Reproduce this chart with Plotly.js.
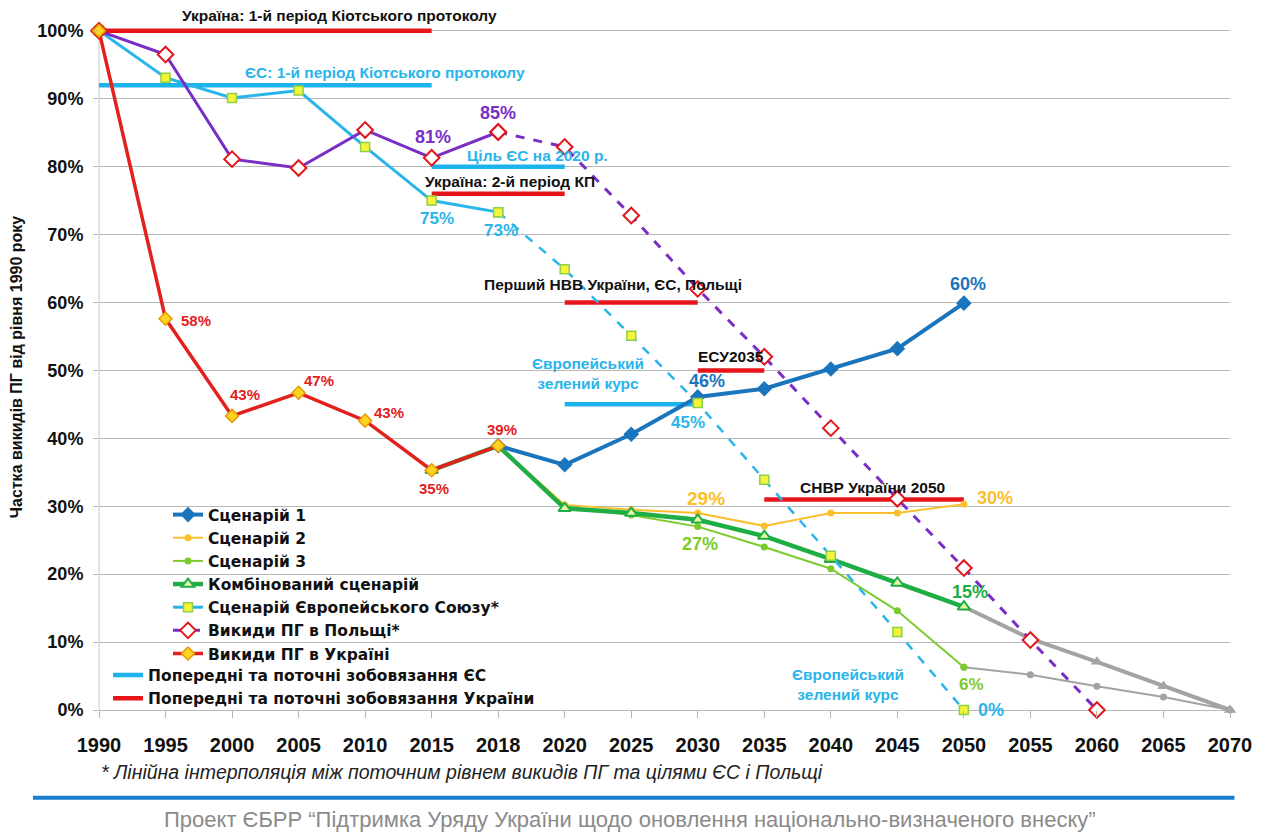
<!DOCTYPE html>
<html>
<head>
<meta charset="utf-8">
<script src="https://cdn.plot.ly/plotly-3.0.1.min.js"></script>
<style>
  html, body { margin: 0; padding: 0; background: #ffffff; }
  #chart { width: 1270px; height: 832px; }
</style>
</head>
<body>
<div id="chart"></div>
<script>
// ---------- DATA ----------
const years = ['1990','1995','2000','2005','2010','2015','2018','2020','2025','2030','2035','2040','2045','2050','2055','2060','2065','2070'];
const yTicks = [0, 10, 20, 30, 40, 50, 60, 70, 80, 90, 100];

// Ukraine GHG emissions, 1990-2018 (% of 1990)
const ukraineYears = years.slice(0, 7);
const ukraine = [100, 57.6, 43.3, 46.7, 42.6, 35.3, 38.9];

// EU scenario, 1990-2050 (historic to 2018, interpolated after)
const euHistYears = years.slice(0, 7);
const euHist = [100, 93.1, 90.1, 91.2, 82.9, 75.0, 73.3];
const euProjYears = years.slice(6, 14);
const euProj = [73.3, 64.9, 55.1, 45.2, 33.9, 22.7, 11.5, 0];

// Poland GHG emissions (historic to 2018, interpolated after)
const polandHistYears = years.slice(0, 7);
const polandHist = [100, 96.5, 81.1, 79.8, 85.4, 81.3, 85.1];
const polandProjYears = years.slice(6, 16);
const polandProj = [85.1, 82.9, 72.8, 62.0, 52.0, 41.5, 31.1, 20.9, 10.3, 0];

// Ukrainian scenarios 2018-2050
const scenarioYears = years.slice(6, 14);
const scenario1 = [38.9, 36.1, 40.6, 46.1, 47.3, 50.2, 53.2, 59.9];
const scenario2 = [38.9, 30.2, 29.5, 29.0, 27.1, 29.0, 29.0, 30.3];
const scenario3 = [38.9, 29.9, 28.7, 27.0, 24.0, 20.8, 14.6, 6.3];
const combinedYears = years.slice(5, 14);
const combined = [35.3, 38.9, 29.7, 29.0, 28.0, 25.6, 22.2, 18.7, 15.2];

// Grey extensions 2050-2070
const extensionYears = years.slice(13, 18);
const scenario3Extension = [6.3, 5.2, 3.5, 1.9, 0];
const combinedExtension = [15.2, 10.5, 7.1, 3.5, 0];

// Commitments (horizontal segments)
const euCommitFrom = ['1990', '2015', '2020'];
const euCommitTo = ['2015', '2020', '2030'];
const euCommitLevel = [92, 80, 45];
const uaCommitFrom = ['1990', '2015', '2020', '2030', '2035'];
const uaCommitTo = ['2015', '2020', '2030', '2035', '2050'];
const uaCommitLevel = [100, 76, 60, 50, 31];

// Names
const names = {
  s1: 'Сценарій 1',
  s2: 'Сценарій 2',
  s3: 'Сценарій 3',
  comb: 'Комбінований сценарій',
  eu: 'Сценарій Європейського Союзу*',
  pl: 'Викиди ПГ в Польщі*',
  ua: 'Викиди ПГ в Україні',
  euC: 'Попередні та поточні зобовязання ЄС',
  uaC: 'Попередні та поточні зобовязання України'
};

// ---------- COLOURS ----------
const C = {
  ua: '#e3201b', uaMk: '#ffd324', uaMkLine: '#e89a00',
  eu: '#29b4ea', euMk: '#f4f43a', euMkLine: '#8fd04a',
  pl: '#7a2ec6', plMk: '#e3141c',
  s1: '#1b75bc', s2: '#fbbf2c', s3: '#7ccb2e', comb: '#1fae44',
  grey: '#a3a3a3', euC: '#1cb2ec', uaC: '#e8141c'
};

const idx = y => years.indexOf(y);

function segTrace(from, to, level, color, name) {
  const x = [], y = [];
  for (let i = 0; i < level.length; i++) {
    x.push(from[i], to[i], to[i]);
    y.push(level[i], level[i], null);
  }
  return { type: 'scatter', mode: 'lines', x, y, name, legend: 'legend2',
    line: { color, width: 4.5 }, connectgaps: false, cliponaxis: false };
}

const traces = [
  segTrace(euCommitFrom, euCommitTo, euCommitLevel, C.euC, names.euC),
  segTrace(uaCommitFrom, uaCommitTo, uaCommitLevel, C.uaC, names.uaC),
  // grey extensions
  { type: 'scatter', mode: 'lines+markers', x: extensionYears, y: scenario3Extension, showlegend: false,
    line: { color: C.grey, width: 2 }, marker: { color: C.grey, size: 7, symbol: 'circle' }, cliponaxis: false },
  { type: 'scatter', mode: 'lines+markers', x: extensionYears, y: combinedExtension, showlegend: false,
    line: { color: C.grey, width: 4 }, marker: { color: C.grey, size: 11, symbol: 'triangle-up' }, cliponaxis: false },
  // scenarios
  { type: 'scatter', mode: 'lines+markers', x: scenarioYears, y: scenario3, name: names.s3, legendrank: 3,
    line: { color: C.s3, width: 2 }, marker: { color: C.s3, size: 7 }, cliponaxis: false },
  { type: 'scatter', mode: 'lines+markers', x: scenarioYears, y: scenario2, name: names.s2, legendrank: 2,
    line: { color: C.s2, width: 2 }, marker: { color: C.s2, size: 7 }, cliponaxis: false },
  { type: 'scatter', mode: 'lines+markers', x: combinedYears, y: combined, name: names.comb, legendrank: 4,
    line: { color: C.comb, width: 4.5 }, marker: { color: '#eaf7a8', size: 11, symbol: 'triangle-up', line: { color: C.comb, width: 2 } }, cliponaxis: false },
  { type: 'scatter', mode: 'lines+markers', x: scenarioYears, y: scenario1, name: names.s1, legendrank: 1,
    line: { color: C.s1, width: 4 }, marker: { color: C.s1, size: 12, symbol: 'diamond' }, cliponaxis: false },
  // EU
  { type: 'scatter', mode: 'lines+markers', x: euProjYears, y: euProj, showlegend: false,
    line: { color: C.eu, width: 2.5, dash: 'dash' }, marker: { color: C.euMk, size: 9, symbol: 'square', line: { color: C.euMkLine, width: 1.5 } }, cliponaxis: false },
  { type: 'scatter', mode: 'lines+markers', x: euHistYears, y: euHist, name: names.eu, legendrank: 5,
    line: { color: C.eu, width: 3 }, marker: { color: C.euMk, size: 9, symbol: 'square', line: { color: C.euMkLine, width: 1.5 } }, cliponaxis: false },
  // Poland
  { type: 'scatter', mode: 'lines+markers', x: polandProjYears, y: polandProj, name: names.pl, legendrank: 6,
    line: { color: C.pl, width: 3, dash: 'dash' }, marker: { color: '#ffffff', size: 12, symbol: 'diamond', line: { color: C.plMk, width: 2 } }, cliponaxis: false },
  { type: 'scatter', mode: 'lines+markers', x: polandHistYears, y: polandHist, showlegend: false,
    line: { color: C.pl, width: 3 }, marker: { color: '#ffffff', size: 12, symbol: 'diamond', line: { color: C.plMk, width: 2 } }, cliponaxis: false },
  // Ukraine
  { type: 'scatter', mode: 'lines+markers', x: ukraineYears, y: ukraine, name: names.ua, legendrank: 7,
    line: { color: C.ua, width: 3.5 }, marker: { color: C.uaMk, size: 10, symbol: 'diamond', line: { color: C.uaMkLine, width: 1.5 } }, cliponaxis: false }
];
traces.forEach(t => { t.hoverinfo = 'skip'; });

// ---------- ANNOTATIONS ----------
const FONT = 'Liberation Sans, Arial, sans-serif';
const pct = v => Math.round(v) + '%';
const bold = (size, color, family) => ({ family: family || FONT, size, color, weight: 'bold' });
function dataLabel(xs, ys, i, color, size, dx, dy) {
  return { x: idx(xs[i]), y: ys[i], text: pct(ys[i]), showarrow: false, xshift: dx, yshift: dy,
    font: bold(size, color), xanchor: 'center', yanchor: 'middle' };
}
const annotations = [
  dataLabel(ukraineYears, ukraine, 1, C.ua, 15, 30, -2),
  dataLabel(ukraineYears, ukraine, 2, C.ua, 15, 13, 21),
  dataLabel(ukraineYears, ukraine, 3, C.ua, 15, 20, 12),
  dataLabel(ukraineYears, ukraine, 4, C.ua, 15, 24, 8),
  dataLabel(ukraineYears, ukraine, 5, C.ua, 15, 2, -18),
  dataLabel(ukraineYears, ukraine, 6, C.ua, 15, 4, 16),
  dataLabel(polandHistYears, polandHist, 5, C.pl, 18, 1, 21),
  dataLabel(polandHistYears, polandHist, 6, C.pl, 18, 0, 19),
  dataLabel(euHistYears, euHist, 5, C.eu, 17, 5, -18),
  dataLabel(euHistYears, euHist, 6, C.eu, 17, 3, -18),
  dataLabel(euProjYears, euProj, 3, C.eu, 17, -10, -19),
  dataLabel(euProjYears, euProj, 7, C.eu, 18, 27, 0),
  dataLabel(scenarioYears, scenario1, 3, C.s1, 18, 9, 16),
  dataLabel(scenarioYears, scenario1, 7, C.s1, 18, 4, 19),
  dataLabel(scenarioYears, scenario2, 3, C.s2, 19, 8, 15),
  dataLabel(scenarioYears, scenario2, 7, C.s2, 18, 31, 6),
  dataLabel(scenarioYears, scenario3, 3, C.s3, 18, 2, -17),
  dataLabel(scenarioYears, scenario3, 7, C.s3, 17, 8, -17),
  dataLabel(combinedYears, combined, 8, C.comb, 18, 6, 15)
];
// commitment labels (positions in category-index units)
const textLabels = [
  [4.30, 93.8, 'ЄС: 1-й період Кіотського протоколу', C.eu],
  [6.59, 81.7, 'Ціль ЄС на 2020 р.', C.eu],
  [6.18, 77.8, 'Україна: 2-й період КП', '#111111'],
  [7.73, 62.7, 'Перший НВВ України, ЄС, Польщі', '#111111'],
  [7.35, 49.6, 'Європейський<br>зелений курс', C.eu],
  [9.50, 52.0, 'ЕСУ2035', '#111111'],
  [11.62, 32.8, 'СНВР України 2050', '#111111'],
  [11.26, 3.8, 'Європейський<br>зелений курс', C.eu]
];
textLabels.forEach(([x, y, text, color]) => {
  annotations.push({ x, y, text, showarrow: false, font: bold(15.5, color), xanchor: 'center', yanchor: 'middle' });
});
annotations.push({ x: 3.62, yref: 'paper', y: 1.0131, text: 'Україна: 1-й період Кіотського протоколу',
  showarrow: false, font: bold(15.5, '#111111'), xanchor: 'center', yanchor: 'middle' });
annotations.push({
  xref: 'paper', yref: 'paper', x: 0, y: -0.091, xanchor: 'left', yanchor: 'middle', showarrow: false,
  text: '* Лінійна інтерполяція між поточним рівнем викидів ПГ та цілями ЄС і Польщі',
  font: { family: FONT, size: 19.5, color: '#222222', style: 'italic' }
});
annotations.push({
  xref: 'paper', yref: 'paper', x: 0.4695, y: -0.159, xanchor: 'center', yanchor: 'middle', showarrow: false,
  text: 'Проект ЄБРР “Підтримка Уряду України щодо оновлення національно-визначеного внеску”',
  font: { family: FONT, size: 22, color: '#8a8a8a' }
});

const layout = {
  width: 1270, height: 832,
  margin: { l: 99, r: 40, t: 24, b: 122 },
  paper_bgcolor: '#ffffff', plot_bgcolor: '#ffffff',
  font: { family: FONT, color: '#111111' },
  xaxis: {
    type: 'category', categoryorder: 'array', categoryarray: years,
    range: [0, years.length - 1], fixedrange: true,
    showgrid: false, zeroline: false, showline: false,
    ticks: 'outside', ticklen: 7, tickcolor: '#b5b5b5', tickwidth: 1,
    ticklabelstandoff: 10,
    tickfont: bold(20, '#111111')
  },
  yaxis: {
    range: [0, 101], tickmode: 'array', tickvals: yTicks, ticktext: yTicks.map(v => v + '%'), fixedrange: true,
    showgrid: true, gridcolor: '#b8b8b8', gridwidth: 1,
    zeroline: true, zerolinecolor: '#b8b8b8', zerolinewidth: 1,
    showline: false,
    ticks: 'outside', ticklen: 5, tickcolor: '#b8b8b8',
    ticklabelstandoff: 6,
    tickfont: bold(18, '#111111'),
    title: { text: 'Частка викидів ПГ від рівня 1990 року', font: bold(16, '#111111'), standoff: 10 }
  },
  legend: {
    x: 0.061, y: 0.309, xanchor: 'left', yanchor: 'top',
    bgcolor: 'rgba(0,0,0,0)', font: bold(15.5, '#111111', 'DejaVu Sans, sans-serif'), traceorder: 'normal',
    tracegroupgap: 0
  },
  legend2: {
    x: 0.008, y: 0.075, xanchor: 'left', yanchor: 'top',
    bgcolor: 'rgba(0,0,0,0)', font: bold(15.5, '#111111', 'DejaVu Sans, sans-serif')
  },
  shapes: [
    { type: 'line', xref: 'paper', yref: 'y', x0: 0, x1: 0, y0: 0, y1: 100,
      line: { color: '#c8c8c8', width: 1 }, layer: 'below' },
    { type: 'line', xref: 'paper', yref: 'paper', x0: -0.0584, x1: 1.004, y0: -0.128, y1: -0.128,
      line: { color: '#1b7fd0', width: 4 } }
  ],
  annotations,
  showlegend: true
};

Plotly.newPlot('chart', traces, layout, { displayModeBar: false, staticPlot: true });
</script>
</body>
</html>
